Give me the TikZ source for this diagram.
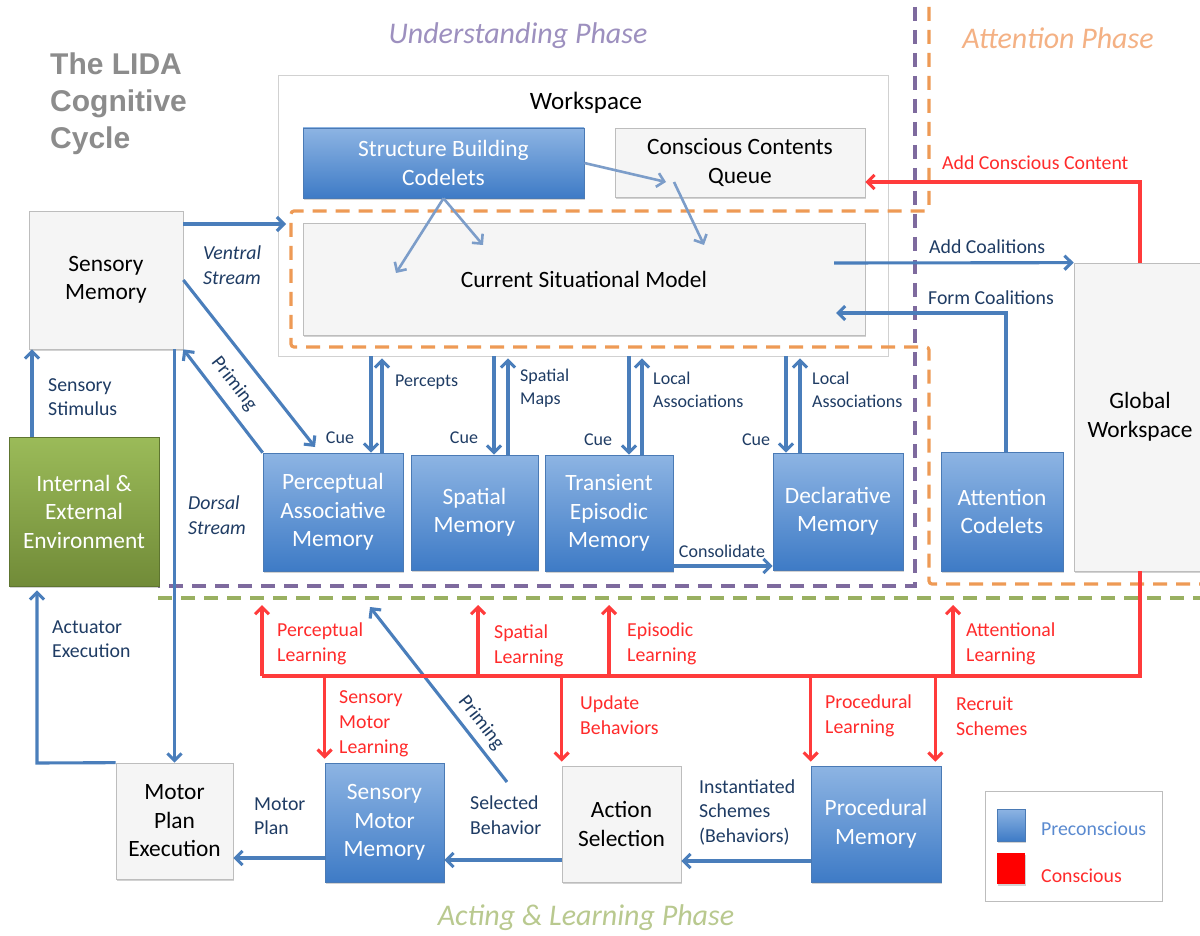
\documentclass[tikz,border=0pt]{standalone}
\usepackage{fontspec}
\setmainfont{Carlito}
\newfontfamily\titlefam{Liberation Sans}
\usetikzlibrary{arrows.meta,shadows}
\definecolor{bTop}{HTML}{8DB4E3}
\definecolor{bBot}{HTML}{3E7BC6}
\definecolor{bEdge}{HTML}{4A7AB5}
\definecolor{gFill}{HTML}{F5F5F5}
\definecolor{gEdge}{HTML}{BDBDBD}
\definecolor{grTop}{HTML}{9BBB59}
\definecolor{grBot}{HTML}{718B38}
\definecolor{grEdge}{HTML}{5E7530}
\definecolor{aBlue}{HTML}{4A7EBB}
\definecolor{aLight}{HTML}{7C9DC9}
\definecolor{cRed}{HTML}{FF3B3B}
\definecolor{cRedT}{HTML}{FF2B2B}
\definecolor{cNavy}{HTML}{1F3C64}
\definecolor{cPurple}{HTML}{7E6A9E}
\definecolor{cOrange}{HTML}{EE9A55}
\definecolor{cGreen}{HTML}{99B061}
\definecolor{tPurple}{HTML}{9D90BF}
\definecolor{tOrange}{HTML}{F4B184}
\definecolor{tGreen}{HTML}{B9C98F}
\definecolor{tGray}{HTML}{8C8C8C}
\definecolor{cPre}{HTML}{5A8AD0}
\newcommand\fBox{\fontsize{23.4}{28.5}\selectfont}
\newcommand\fWs{\fontsize{25}{30}\selectfont}
\newcommand\fLbl{\fontsize{19.8}{24.5}\selectfont}
\newcommand\fSml{\fontsize{18}{23}\selectfont}
\newcommand\fRed{\fontsize{19.8}{25}\selectfont}
\newcommand\fPhase{\fontsize{30}{34}\selectfont\itshape}
\newcommand\fTitle{\titlefam\bfseries\fontsize{30}{37}\selectfont}
\newcommand\bx[7]{\node[#2, minimum width={(#5-#3)*1pt}, minimum height={(#6-#4)*1pt}] (#1) at ({(#3+#5)/2},{(#4+#6)/2}) {#7};}
\begin{document}
\begin{tikzpicture}[x=1pt,y=-1pt,
  box/.style={inner sep=0pt, align=center, font=\fBox, line width=0.7pt},
  shd/.style={drop shadow={shadow xshift=1.2pt, shadow yshift=-1.8pt, opacity=0.35, fill=black!50}},
  bluebox/.style={box, shd, top color=bTop, bottom color=bBot, draw=bEdge, text=white},
  graybox/.style={box, shd, fill=gFill, draw=gEdge, text=black},
  greenbox/.style={box, shd, top color=grTop, bottom color=grBot, draw=grEdge, text=white},
  wsbox/.style={box, fill=white, draw=gEdge!70},
  legbox/.style={box, fill=white, draw=gEdge, line width=1pt},
  redsq/.style={box, shd, fill=red, draw=none},
  tipb/.style={-{Straight Barb[length=7pt,width=14pt]}},
  barr/.style={draw=aBlue, line width=3.1pt, tipb},
  larr/.style={draw=aLight, line width=2.6pt, tipb},
  rline/.style={draw=cRed, line width=3.1pt},
  rarr/.style={rline, tipb},
  lbl/.style={font=\fLbl, text=cNavy, align=left, inner sep=0pt, anchor=west},
  slbl/.style={lbl, font=\fSml},
  rlbl/.style={font=\fRed, text=cRedT, align=left, inner sep=0pt, anchor=west},
  phase/.style={font=\fPhase, inner sep=0pt},
  dsh/.style={line width=3.2pt, dash pattern=on 14pt off 9pt},
]
\clip (0,0) rectangle (1200,936);
\fill[white] (0,0) rectangle (1200,936);

% titles
\node[font=\fTitle, text=tGray, align=left, anchor=west, inner sep=0pt] (title) at (50,104) {The LIDA\\Cognitive\\Cycle};
\node[phase, text=tPurple] (ph1) at (518,36) {Understanding Phase};
\node[phase, text=tOrange] (ph2) at (1058,38) {Attention Phase};
\node[phase, text=tGreen] (ph3) at (586,918) {Acting \& Learning Phase};

% workspace container
\bx{ws}{wsbox}{278}{75}{888}{356}{}
\node[font=\fWs, inner sep=0pt] (wst) at (586,103) {Workspace};

% phase dashed boundaries
\draw[dsh, draw=cPurple] (915,7) -- (915,586) -- (158,586);
\draw[dsh, draw=cOrange, rounded corners=3pt] (929,7) -- (929,211) -- (291,211) -- (291,347) -- (929,347) -- (929,584) -- (1200,584);
\draw[dsh, draw=cGreen] (158,598) -- (1200,598);

% boxes
\bx{sbc}{bluebox}{303}{128}{584}{198}{Structure Building\\Codelets}
\bx{ccq}{graybox}{615}{128}{865}{197}{Conscious Contents\\Queue}
\bx{csm}{graybox}{303}{223}{865}{335}{Current Situational Model}
\bx{sm}{graybox}{29}{211}{183}{349}{Sensory\\Memory}
\bx{env}{greenbox}{9}{437}{159}{586}{Internal \&\\External\\Environment}
\bx{pam}{bluebox}{263}{453}{403}{571}{Perceptual\\Associative\\Memory}
\bx{spm}{bluebox}{411}{455}{538}{570}{Spatial\\Memory}
\bx{tem}{bluebox}{545}{455}{673}{571}{Transient\\Episodic\\Memory}
\bx{dm}{bluebox}{773}{453}{903}{570}{Declarative\\Memory}
\bx{ac}{bluebox}{941}{452}{1063}{571}{Attention\\Codelets}
\bx{gw}{graybox}{1074}{263}{1206}{571}{Global\\Workspace}
\bx{mpe}{graybox}{116}{763}{233}{879}{Motor\\Plan\\Execution}
\bx{smm}{bluebox}{325}{763}{444}{882}{Sensory\\Motor\\Memory}
\bx{as}{graybox}{562}{766}{681}{882}{Action\\Selection}
\bx{pm}{bluebox}{811}{766}{941}{882}{Procedural\\Memory}

% coordinates
\coordinate (wsin) at (286,224);
\coordinate (pamcue) at (315,447);
\coordinate (ss) at (32,437);
\coordinate (ae) at (37,763);
\coordinate (xa) at (371,0); \coordinate (xb) at (382,0);
\coordinate (xc) at (494,0); \coordinate (xd) at (508,0);
\coordinate (xe) at (629,0); \coordinate (xf) at (642,0);
\coordinate (xg) at (786,0); \coordinate (xh) at (800,0);
\coordinate (acs) at (834,263);
\coordinate (fc) at (836,313);
\coordinate (cons) at (0,566);
\coordinate (mp) at (0,858);
\coordinate (sel) at (0,860);
\coordinate (ins) at (0,861);
\coordinate (p2s) at (507,782);
\coordinate (p2e) at (370,607);
\coordinate (w1) at (396,273);
\coordinate (w2) at (483,245);
\coordinate (w3) at (666,182);
\coordinate (w4s) at (674,182);
\coordinate (w4) at (704,245);
\coordinate (rt) at (1140,182);
\coordinate (rb) at (1140,676);
\coordinate (lb) at (262,676);
\coordinate (up) at (0,605);
\coordinate (xs) at (478,0);
\coordinate (xep) at (609,0);
\coordinate (xat) at (953,0);

% blue connectors
\draw[barr] (sm.east |- wsin) -- (wsin);
\draw[barr] (sm.east) -- (pamcue);
\draw[barr] (pam.north west) -- (sm.south east);
\draw[barr] (mpe.north |- sm.south) -- (mpe.north);
\draw[barr] (ss) -- (ss |- sm.south);
\draw[barr, shorten >=4pt] (mpe.north west) -- (ae) -- (ae |- env.south);
\draw[barr] (xa |- ws.south) -- (xa |- pam.north);
\draw[barr, shorten >=2pt] (xb |- pam.north) -- (xb |- ws.south);
\draw[barr] (xc |- ws.south) -- (xc |- spm.north);
\draw[barr, shorten >=2pt] (xd |- spm.north) -- (xd |- ws.south);
\draw[barr] (xe |- ws.south) -- (xe |- tem.north);
\draw[barr, shorten >=2pt] (xf |- tem.north) -- (xf |- ws.south);
\draw[barr] (xg |- ws.south) -- (xg |- dm.north);
\draw[barr, shorten >=2pt] (xh |- dm.north) -- (xh |- ws.south);
\draw[barr] (acs) -- (gw.north west);
\draw[barr] ([xshift=4pt]ac.north) |- (fc);
\draw[barr] (tem.east |- cons) -- (dm.west |- cons);
\draw[barr] (smm.west |- mp) -- (mpe.east |- mp);
\draw[barr] (as.west |- sel) -- (smm.east |- sel);
\draw[barr] (pm.west |- ins) -- (as.east |- ins);
\draw[barr] (p2s) -- (p2e);

% workspace internal
\draw[larr] (sbc.south) -- (w1);
\draw[larr] (sbc.south) -- (w2);
\draw[larr] (sbc.east) -- (w3);
\draw[larr] (w4s) -- (w4);

% red connectors
\draw[rarr] (gw.north) -- (rt) -- (ccq.east |- rt);
\draw[rline] (gw.south) -- (rb) -- (lb);
\draw[rarr] (lb) -- (lb |- up);
\draw[rarr] (xs |- lb) -- (xs |- up);
\draw[rarr] (xep |- lb) -- (xep |- up);
\draw[rarr] (xat |- lb) -- (xat |- up);
\draw[rarr, shorten >=4pt] (smm.north west |- lb) -- (smm.north west);
\draw[rarr, shorten >=4pt] (as.north west |- lb) -- (as.north west);
\draw[rarr, shorten >=4pt] (pm.north west |- lb) -- (pm.north west);
\draw[rarr, shorten >=4pt] ([xshift=-6pt]pm.north east |- lb) -- ([xshift=-6pt]pm.north east);

% blue labels
\node[lbl] (l1) at (48,397) {Sensory\\Stimulus};
\node[lbl, font=\fLbl\itshape] (l2) at (203,265) {Ventral\\Stream};
\node[lbl, font=\fLbl\itshape] (l3) at (188,515) {Dorsal\\Stream};
\node[lbl] (l4) at (52,639) {Actuator\\Execution};
\node[slbl] (l5) at (395,382) {Percepts};
\node[slbl] (l6) at (520,388) {Spatial\\Maps};
\node[slbl] (l7) at (653,390) {Local\\Associations};
\node[slbl] (l8) at (812,390) {Local\\Associations};
\node[slbl, anchor=center] (c1) at (340,438) {Cue};
\node[slbl, anchor=center] (c2) at (464,438) {Cue};
\node[slbl, anchor=center] (c3) at (598,440) {Cue};
\node[slbl, anchor=center] (c4) at (756,440) {Cue};
\node[slbl, anchor=center] (l9) at (722,551) {Consolidate};
\node[lbl] (l10) at (929,247) {Add Coalitions};
\node[lbl] (l11) at (928,298) {Form Coalitions};
\node[lbl] (l12) at (254,816) {Motor\\Plan};
\node[lbl] (l13) at (470,815) {Selected\\Behavior};
\node[lbl] (l14) at (699,812) {Instantiated\\Schemes\\(Behaviors)};
\node[lbl, anchor=center, rotate=-52] (pr1) at (234,384) {Priming};
\node[lbl, anchor=center, rotate=-52] (pr2) at (481,723) {Priming};

% red labels
\node[rlbl] (r1) at (942,163) {Add Conscious Content};
\node[rlbl] (r2) at (277,644) {Perceptual\\Learning};
\node[rlbl] (r3) at (494,646) {Spatial\\Learning};
\node[rlbl] (r4) at (627,644) {Episodic\\Learning};
\node[rlbl] (r5) at (966,644) {Attentional\\Learning};
\node[rlbl] (r6) at (339,724) {Sensory\\Motor\\Learning};
\node[rlbl] (r7) at (580,715) {Update\\Behaviors};
\node[rlbl] (r8) at (825,716) {Procedural\\Learning};
\node[rlbl] (r9) at (956,716) {Recruit\\Schemes};

% legend
\bx{leg}{legbox}{985}{791}{1162}{901}{}
\bx{lgb}{bluebox}{997}{809}{1025}{841}{}
\bx{lgr}{redsq}{997}{853}{1025}{884}{}
\node[rlbl, text=cPre] (lt1) at (1041,829) {Preconscious};
\node[rlbl] (lt2) at (1041,876) {Conscious};
\end{tikzpicture}
\end{document}
